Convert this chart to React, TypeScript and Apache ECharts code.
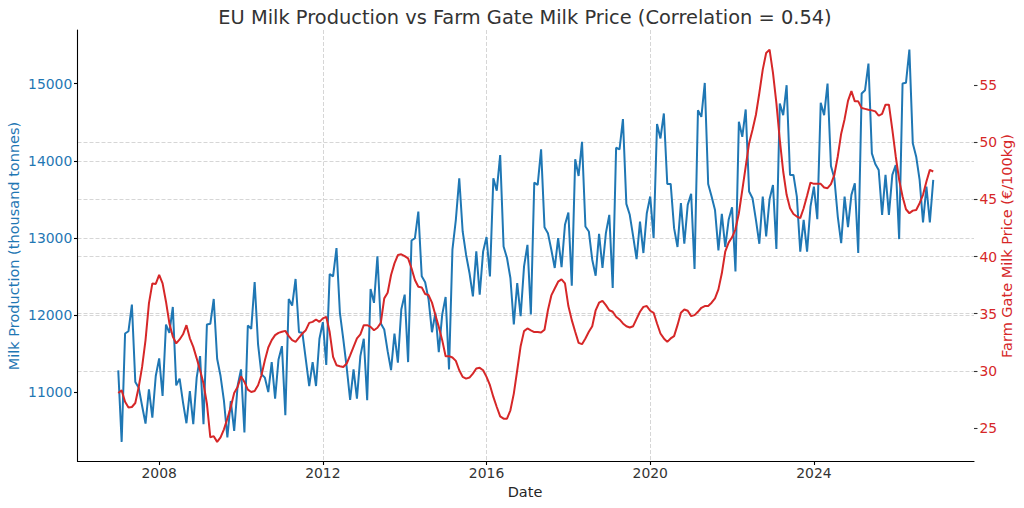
import React, { useEffect, useRef } from "react";
import * as echarts from "echarts";

// Monthly series, January 2007 to December 2026
const START_YEAR = 2007;

// EU milk production (thousand tonnes), one row per year
const production: number[] = [
  11278, 10350, 11757, 11787, 12133, 11127, 11054, 10816, 10588, 11032, 10666, 11205,
  11434, 10946, 11874, 11766, 12102, 11084, 11171, 10860, 10592, 11010, 10579, 11184,
  11463, 10579, 11874, 11883, 12206, 11430, 11205, 10881, 10407, 10881, 10493, 11075,
  11291, 10472, 11861, 11818, 12426, 11615, 11227, 11184, 10997, 11386, 10912, 11421,
  11593, 10696, 12206, 12120, 12465, 11774, 11766, 11421, 11075, 11386, 11075, 11689,
  11904, 11350, 12528, 12499, 12866, 12025, 11680, 11313, 10894, 11291, 10912, 11464,
  11689, 10890, 12336, 12155, 12758, 11887, 11809, 11528, 11282, 11757, 11378, 12068,
  12262, 11386, 12965, 12996, 13340, 12499, 12422, 12200, 11774, 12025, 11515, 12003,
  12232, 11291, 12845, 13233, 13773, 13082, 12780, 12543, 12240, 12823, 12262, 12823,
  13009, 12499, 13773, 13612, 14074, 12887, 12737, 12478, 11874, 12413, 11981, 12628,
  12909, 12003, 13716, 13686, 14148, 13138, 13060, 12845, 12608, 12996, 12620, 13168,
  13328, 12379, 14019, 13803, 14247, 13146, 13082, 12715, 12508, 13052, 12608, 13060,
  13298, 12349, 14169, 14148, 14540, 13440, 13298, 13017, 12724, 13211, 12802, 13319,
  13535, 12996, 14476, 14290, 14614, 13699, 13699, 13125, 12880, 13449, 12922, 13427,
  13570, 12595, 14657, 14570, 15010, 13699, 13535, 13362, 12836, 13311, 12880, 13233,
  13397, 12564, 14506, 14311, 14666, 13600, 13514, 13233, 12922, 13535, 13017, 13501,
  13686, 12854, 14744, 14592, 14981, 13816, 13816, 13535, 12819, 13233, 12819, 13405,
  13664, 13242, 14752, 14592, 15003, 13932, 13773, 13276, 12931, 13535, 13138, 13557,
  13708, 12802, 14873, 14916, 15261, 14096, 13958, 13880, 13298, 13816, 13298, 13816,
  13945, 12983, 15003, 15012, 15443, 14226, 14053, 13751, 13198, 13664, 13198, 13751,
];

// Farm gate milk price (EUR / 100 kg), one row per year
const price: number[] = [
  28.07, 28.3, 27.3, 26.8, 26.85, 27.2, 28.6, 30.35, 32.7, 35.9, 37.65, 37.6,
  38.4, 37.65, 36.05, 34.15, 33.0, 32.4, 32.75, 33.2, 34.0, 32.85, 32.1, 31.1,
  30.05, 28.9, 27.15, 24.2, 24.3, 23.8, 24.2, 24.9, 25.83, 26.85, 28.07, 28.6,
  29.54, 29.04, 28.37, 28.16, 28.25, 28.75, 29.62, 30.94, 32.05, 32.69, 33.13, 33.33,
  33.42, 33.5, 33.04, 32.69, 32.54, 32.92, 33.27, 33.56, 34.2, 34.29, 34.5, 34.29,
  34.59, 34.73, 33.4, 31.23, 30.5, 30.41, 30.35, 30.65, 31.37, 32.1, 32.84, 33.2,
  34.0, 34.0, 33.85, 33.56, 33.77, 34.2, 36.34, 36.83, 38.38, 39.4, 40.13, 40.19,
  40.04, 39.84, 38.97, 37.94, 37.36, 37.3, 36.72, 36.63, 35.97, 34.88, 33.85, 32.69,
  31.29, 31.29, 31.17, 30.88, 30.06, 29.48, 29.33, 29.42, 29.77, 30.21, 30.27, 30.06,
  29.48, 28.75, 27.73, 26.85, 26.03, 25.83, 25.83, 26.56, 28.02, 30.06, 32.16, 33.48,
  33.71, 33.55, 33.4, 33.4, 33.35, 33.6, 35.3, 36.6, 37.2, 37.8, 38.0, 37.65,
  35.67, 34.44, 33.42, 32.45, 32.34, 32.84, 33.42, 33.91, 35.3, 35.96, 36.13, 35.75,
  35.3, 35.17, 34.73, 34.5, 34.15, 33.91, 33.8, 33.91, 34.55, 35.17, 35.6, 35.67,
  35.26, 35.08, 34.15, 33.27, 32.84, 32.54, 32.84, 33.04, 34.0, 35.08, 35.37, 35.26,
  34.79, 34.88, 35.17, 35.52, 35.67, 35.67, 35.96, 36.34, 37.13, 38.53, 40.42, 41.21,
  41.68, 42.38, 43.78, 45.8, 47.85, 49.9, 51.08, 52.39, 54.29, 56.33, 57.79, 58.08,
  56.04, 53.41, 50.2, 47.43, 45.39, 44.22, 43.72, 43.49, 43.35, 44.22, 45.3, 46.46,
  46.35, 46.35, 46.35, 46.03, 45.97, 46.32, 47.14, 48.74, 50.73, 52.0, 53.6, 54.45,
  53.56, 53.56, 52.97, 52.9, 52.83, 52.77, 52.68, 52.3, 52.47, 53.27, 53.27, 51.08,
  48.74, 46.7, 45.24, 44.13, 43.78, 44.01, 44.07, 44.66, 45.39, 46.55, 47.57, 47.43,
];

const xTicks = [2008, 2012, 2016, 2020, 2024];
const leftTicks = [11000, 12000, 13000, 14000, 15000];
const rightTicks = [25, 30, 35, 40, 45, 50, 55];

const TITLE = "EU Milk Production vs Farm Gate Milk Price (Correlation = 0.54)";
const X_LABEL = "Date";
const LEFT_LABEL = "Milk Production (thousand tonnes)";
const RIGHT_LABEL = "Farm Gate Milk Price (€/100kg)";

// decimal-year position of each month
const months = production.map((_, i) => START_YEAR + i / 12);

function padded(vals: number[]): [number, number] {
  const lo = Math.min(...vals);
  const hi = Math.max(...vals);
  const m = (hi - lo) * 0.05;
  return [lo - m, hi + m];
}

const FONT = "DejaVu Sans";
const BLUE = "#1f77b4";
const RED = "#d62728";

export default function App() {
  const ref = useRef<HTMLDivElement>(null);

  useEffect(() => {
    if (!ref.current) return;
    const chart = echarts.init(ref.current, undefined, { renderer: "svg" });
    const [xMin, xMax] = padded(months);
    const [lMin, lMax] = padded(production);
    const [rMin, rMax] = padded(price);

    const gridLine = {
      show: true,
      showMinLine: false,
      showMaxLine: false,
      lineStyle: { color: "#cccccc", width: 0.8, type: [4, 2] },
    };

    const option: any = {
      animation: false,
      backgroundColor: "#ffffff",
      textStyle: { fontFamily: FONT },
      grid: { left: 77.5, right: 50, top: 30, bottom: 46.5, containLabel: false },
      xAxis: {
        type: "value",
        min: xMin,
        max: xMax,
        minInterval: 4,
        maxInterval: 4,
        axisLine: { show: true, onZero: false, lineStyle: { color: "#000000", width: 1.1 } },
        axisTick: { show: true, length: 3.5, customValues: xTicks, lineStyle: { color: "#000000", width: 1.1 } },
        axisLabel: {
          customValues: xTicks,
          margin: 4.5,
          color: "#333333",
          fontFamily: FONT,
          fontSize: 13.9,
          formatter: (v: number) => String(Math.round(v)),
        },
        splitLine: gridLine,
      },
      yAxis: [
        {
          type: "value",
          position: "left",
          min: lMin,
          max: lMax,
          minInterval: 1000,
          maxInterval: 1000,
          axisLine: { show: true, onZero: false, lineStyle: { color: "#000000", width: 1.1 } },
          axisTick: { show: true, length: 3.5, customValues: leftTicks, lineStyle: { color: "#000000", width: 1.1 } },
          axisLabel: {
            customValues: leftTicks,
            margin: 5.2,
            color: BLUE,
            fontFamily: FONT,
            fontSize: 13.9,
            formatter: (v: number) => String(Math.round(v)),
          },
          splitLine: gridLine,
        },
        {
          type: "value",
          position: "right",
          min: rMin,
          max: rMax,
          minInterval: 5,
          maxInterval: 5,
          axisLine: { show: false, onZero: false },
          axisTick: { show: true, length: 3.5, customValues: rightTicks, lineStyle: { color: "#333333", width: 1.1 } },
          axisLabel: {
            customValues: rightTicks,
            margin: 5.5,
            color: RED,
            fontFamily: FONT,
            fontSize: 13.9,
            formatter: (v: number) => String(Math.round(v)),
          },
          splitLine: gridLine,
        },
      ],
      series: [
        {
          type: "line",
          name: "Milk Production",
          xAxisIndex: 0,
          yAxisIndex: 0,
          data: months.map((m, i) => [m, production[i]]),
          showSymbol: false,
          symbol: "none",
          lineStyle: { color: BLUE, width: 2 },
          itemStyle: { color: BLUE },
          z: 3,
        },
        {
          type: "line",
          name: "Farm Gate Milk Price",
          xAxisIndex: 0,
          yAxisIndex: 1,
          data: months.map((m, i) => [m, price[i]]),
          showSymbol: false,
          symbol: "none",
          lineStyle: { color: RED, width: 2 },
          itemStyle: { color: RED },
          z: 4,
        },
      ],
      graphic: [
        {
          type: "text",
          x: 525,
          y: 17,
          style: { text: TITLE, fill: "#333333", font: `19.4px "${FONT}"`, align: "center", verticalAlign: "middle" },
        },
        {
          type: "text",
          x: 525,
          y: 491.5,
          style: { text: X_LABEL, fill: "#262626", font: `14.5px "${FONT}"`, align: "center", verticalAlign: "middle" },
        },
        {
          type: "text",
          x: 14,
          y: 246,
          rotation: Math.PI / 2,
          style: { text: LEFT_LABEL, fill: BLUE, font: `14.5px "${FONT}"`, align: "center", verticalAlign: "middle" },
        },
        {
          type: "text",
          x: 1007,
          y: 246,
          rotation: Math.PI / 2,
          style: { text: RIGHT_LABEL, fill: RED, font: `14.5px "${FONT}"`, align: "center", verticalAlign: "middle" },
        },
      ],
    };

    chart.setOption(option);
    return () => chart.dispose();
  }, []);

  return (
    <div
      ref={ref}
      style={{ position: "fixed", left: 0, top: 0, width: 1024, height: 508, background: "#ffffff" }}
    />
  );
}
